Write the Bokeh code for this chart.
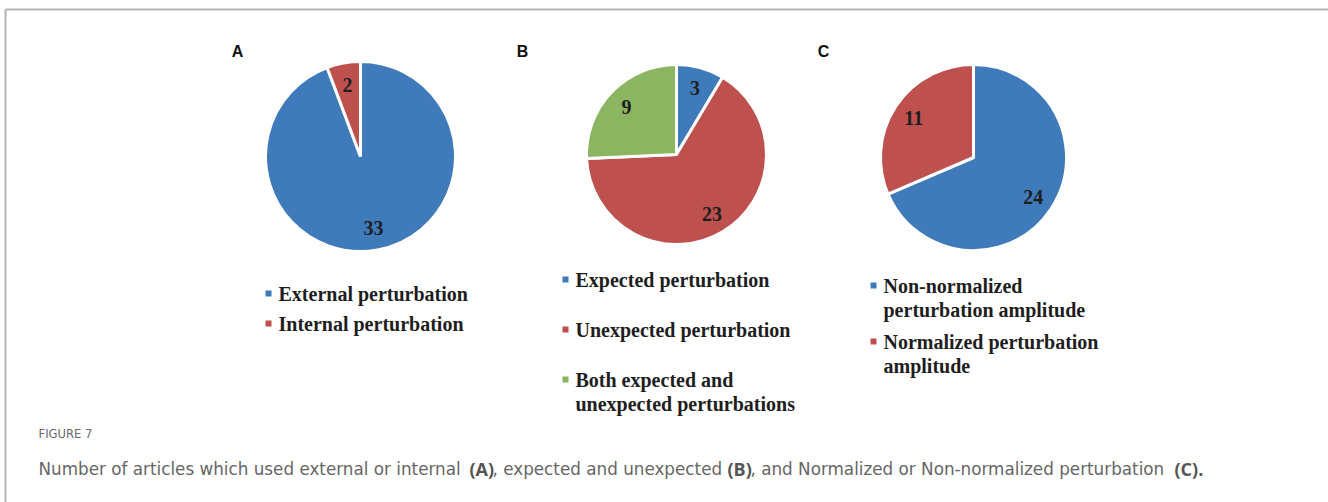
from bokeh.plotting import figure
from bokeh.models import Range1d
from bokeh.core.properties import value
from bokeh.embed import file_html
from bokeh.resources import INLINE
import math

# ---------------- data ----------------
panel_letters = ["A", "B", "C"]
a_labels = ["External perturbation", "Internal perturbation"]
a_values = [33, 2]
b_labels = ["Expected perturbation", "Unexpected perturbation",
            "Both expected and\nunexpected perturbations"]
b_values = [3, 23, 9]
c_labels = ["Non-normalized\nperturbation amplitude",
            "Normalized perturbation\namplitude"]
c_values = [24, 11]
fig_label = "FIGURE 7"
caption_parts = ["Number of articles which used external or internal ", "(A)",
                 ", expected and unexpected ", "(B)",
                 ", and Normalized or Non-normalized perturbation ", "(C)."]
caption_bold = [False, True, False, True, False, True]

BLUE, RED, GREEN = "#3f7bbb", "#be504e", "#8bb561"
a_colors = [BLUE, RED]
b_colors = [BLUE, RED, GREEN]
c_colors = [BLUE, RED]

# ---------------- figure (data units = screen pixels) ----------------
W, H = 1328, 502
OX, OY = 0, 0
p = figure(width=W, height=H, output_backend="svg", toolbar_location=None,
           x_range=Range1d(OX, OX + W), y_range=Range1d(0, H),
           x_axis_type=None, y_axis_type=None, min_border=0)
p.grid.visible = False
p.outline_line_color = None
p.background_fill_color = "white"


def Y(yp):
    return OY + H - yp


# frame lines
p.segment(x0=[5, 5], y0=[Y(9), Y(9)], x1=[W, 5], y1=[Y(9), Y(H)],
          line_color="#b4b4b4", line_width=2)

SERIF = value("Liberation Serif")
SANS = value("Liberation Sans")
CAP = value("DejaVu Sans")
CAP_BOLD = value("Open Sans")


def pie(cx, cy, r, vals, cols):
    tot = float(sum(vals))
    c0 = 0.0
    starts, ends, lx, ly, txt = [], [], [], [], []
    for v in vals:
        c1 = c0 + v / tot
        a0 = math.pi / 2 - 2 * math.pi * c0
        a1 = math.pi / 2 - 2 * math.pi * c1
        starts.append(a0)
        ends.append(a1)
        am = (a0 + a1) / 2
        lx.append(cx + 0.77 * r * math.cos(am))
        ly.append(Y(cy) + 0.77 * r * math.sin(am))
        txt.append(str(v))
        c0 = c1
    p.wedge(x=[cx] * len(vals), y=[Y(cy)] * len(vals), radius=r,
            start_angle=ends, end_angle=starts, direction="anticlock",
            fill_color=cols, line_color="white", line_width=3)
    p.text(x=lx, y=ly, text=txt, text_font=SERIF, text_font_style="bold",
           text_font_size="20px", text_color="#1e1e1e",
           text_align="center", text_baseline="middle")


def legend(mx, ys, labels, cols):
    for yy, lab, col in zip(ys, labels, cols):
        p.scatter(x=[mx], y=[Y(yy)], marker="square", size=6,
                  fill_color=col, line_color=None)
        lines = lab.split("\n")
        p.text(x=[mx + 10] * len(lines), y=[Y(yy + 24 * i) for i in range(len(lines))],
               text=lines, text_font=SERIF, text_font_style="bold",
               text_font_size="20px", text_color="#1e1e1e",
               text_align="left", text_baseline="middle")


pie(360, 156, 95, a_values, a_colors)
pie(676, 154, 90, b_values, b_colors)
pie(973, 157, 93, c_values, c_colors)

legend(268, [293, 323], a_labels, a_colors)
legend(565, [279, 329, 379], b_labels, b_colors)
legend(873, [285, 341], c_labels, c_colors)

p.text(x=[237, 522, 823], y=[Y(51)] * 3, text=panel_letters, text_font=SANS,
       text_font_style="bold", text_font_size="16px", text_color="#111111",
       text_align="center", text_baseline="middle")

p.text(x=[38], y=[Y(433)], text=[fig_label], text_font=CAP,
       text_font_size="11.6px", text_color="#6a6a6a",
       text_align="left", text_baseline="middle")

cap_x = [38, 469, 492, 727, 750, 1174]
for xx, part, bold in zip(cap_x, caption_parts, caption_bold):
    p.text(x=[xx], y=[Y(468)], text=[part],
           text_font=CAP_BOLD if bold else CAP,
           text_font_style="bold" if bold else "normal",
           text_font_size="18px" if bold else "16.8px",
           text_color="#555555" if bold else "#666666",
           text_align="left", text_baseline="middle")

open("out.html", "w").write(file_html(p, INLINE))
